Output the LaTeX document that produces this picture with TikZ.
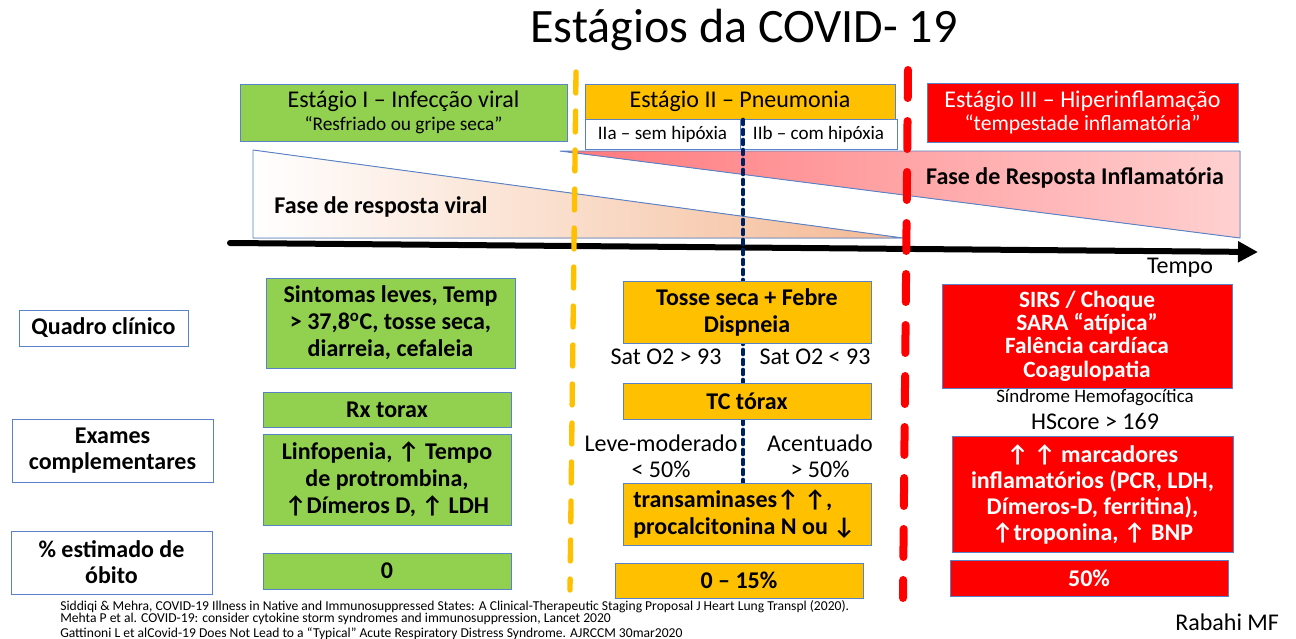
\documentclass[tikz,border=0pt]{standalone}
\usepackage{fontspec}
\setmainfont{Carlito}
\usepackage{tkz-euclide}
\usetikzlibrary{arrows.meta,calc}
\definecolor{GreenClr}{RGB}{146,208,80}
\definecolor{OrangeClr}{RGB}{255,192,0}
\definecolor{RedClr}{RGB}{255,0,0}
\definecolor{BorderClr}{RGB}{90,130,200}
\definecolor{NavyClr}{RGB}{0,32,96}
\definecolor{ViralClr}{RGB}{244,185,148}
\definecolor{InflamClr}{RGB}{255,120,124}
\definecolor{InflamLightClr}{RGB}{255,208,208}
\newcommand\titlefont{\fontsize{36}{42}\selectfont}
\newcommand\stagefont{\fontsize{18}{17.25}\selectfont}
\newcommand\boxfont{\fontsize{18}{20.25}\selectfont\bfseries}
\newcommand\plainfont{\fontsize{18}{19.5}\selectfont}
\newcommand\reffont{\fontsize{10.2}{9.4}\selectfont}

\begin{document}
\begin{tikzpicture}[x=0.75pt,y=-0.75pt,
  boxsize/.style 2 args={minimum width=#1*0.75pt,minimum height=#2*0.75pt},
  cell/.style={draw=BorderClr,line width=0.7pt,inner sep=0pt,align=center},
  greencell/.style={cell,fill=GreenClr,font=\boxfont},
  orangecell/.style={cell,fill=OrangeClr,font=\boxfont},
  redcell/.style={cell,fill=RedClr,text=white,font=\boxfont},
  labelcell/.style={cell,fill=white,font=\boxfont},
  plaintext/.style={inner sep=0pt,align=center,font=\plainfont}]
\fill[white] (0,0) rectangle (1296,639);
\useasboundingbox (0,0) rectangle (1296,639);

\node[font=\titlefont,anchor=base] (title) at (744,42) {Estágios da COVID- 19};

% Points of the two phase wedges and of the lines.
\tkzDefPoints{253/150/V1,253/238/V2,903/238/V3}
\tkzDefPoints{560/151/F1,1240/151/F2,1240/238/F3}
\tkzDefPoints{230/243/T0,1258/252/T1}
\tkzDefPoints{576/72/Y0,570/590/Y1,908/70/R0,903/598/R1,743/120/N0,743/483/N1}

\tkzFillPolygon[left color=white,right color=ViralClr](V1,V2,V3)
\tkzFillPolygon[left color=InflamClr,right color=InflamLightClr](F1,F2,F3)
\tkzDrawPolygon[color=BorderClr,line width=0.7pt](V1,V2,V3)
\tkzDrawPolygon[color=BorderClr,line width=0.7pt](F1,F2,F3)

\node[font=\boxfont] (viral) at (381,207) {Fase de resposta viral};
\node[font=\boxfont] (inflam) at (1075,178) {Fase de Resposta Inflamatória};

% Time axis.
\tkzDrawSegment[color=black,line width=4.5pt,-{Triangle[length=15pt,width=15pt]}](T0,T1)
\node[plaintext] (tempo) at (1180,268) {Tempo};

% Stage headers.
\node[cell,fill=GreenClr,boxsize={327}{57},font=\stagefont] (stageI) at (403.5,112.5)
  {Estágio I – Infecção viral\\{\fontsize{14.5}{17}\selectfont “Resfriado ou gripe seca”}};
\node[cell,fill=OrangeClr,boxsize={310}{35},font=\stagefont] (stageII) at (740,101.5) {Estágio II – Pneumonia};
\node[cell,fill=white,boxsize={155}{30},font=\fontsize{14.3}{16}\selectfont] (IIa) at (662.5,134) {IIa – sem hipóxia};
\node[cell,fill=white,boxsize={157}{30},font=\fontsize{14.3}{16}\selectfont] (IIb) at (818.5,134) {IIb – com hipóxia};
\node[cell,fill=RedClr,text=white,boxsize={311}{59},font=\stagefont] (stageIII) at (1082.5,112.5)
  {Estágio III – Hiperinflamação\\{\fontsize{16.3}{18}\selectfont “tempestade inflamatória”}};

% Stage borders.
\tkzDrawSegment[color=OrangeClr,line width=4pt,dash pattern=on 15.75pt off 13.5pt](Y0,Y1)
\tkzDrawSegment[color=RedClr,line width=6pt,dash pattern=on 21pt off 17.25pt](R0,R1)
\tkzDrawSegment[color=NavyClr,line width=3.5pt,dash pattern=on 3pt off 4.5pt](N0,N1)

% Row labels.
\node[labelcell,boxsize={169}{36}] (quadro) at (103.5,328) {Quadro clínico};
\node[labelcell,boxsize={201}{63},font=\fontsize{18}{19.5}\selectfont\bfseries] (exames) at (112.5,450.5) {Exames\\complementares};
\node[labelcell,boxsize={201}{63},font=\fontsize{18}{19.5}\selectfont\bfseries] (obito) at (111.5,562.5) {\% estimado de\\óbito};

% Stage I column.
\node[greencell,boxsize={249}{90}] (sintomas) at (390.5,323)
  {Sintomas leves, Temp\\> 37,8\textsuperscript{o}C, tosse seca,\\diarreia, cefaleia};
\node[greencell,boxsize={248}{35}] (rx) at (387,409.5) {Rx torax};
\node[greencell,boxsize={248}{91}] (linfo) at (387,479.5)
  {Linfopenia, ↑ Tempo\\de protrombina,\\↑Dímeros D, ↑ LDH};
\node[greencell,boxsize={248}{36}] (zero) at (387,571) {0};

% Stage II column.
\node[orangecell,boxsize={248}{62}] (tosse) at (747,312) {Tosse seca + Febre\\Dispneia};
\node[plaintext] (satA) at (666,357) {Sat O2 > 93};
\node[plaintext] (satB) at (815,357) {Sat O2 < 93};
\node[orangecell,boxsize={248}{36}] (tc) at (747,401) {TC tórax};
\node[plaintext] (leve) at (661,456) {Leve-moderado\\< 50\%};
\node[plaintext] (acent) at (820,456) {Acentuado\\> 50\%};
\node[orangecell,boxsize={248}{62}] (trans) at (747,514) {};
\node[font=\boxfont,align=left,anchor=west,inner sep=0pt] (transtext) at (633,514)
  {transaminases↑ ↑,\\procalcitonina N ou ↓};
\node[orangecell,boxsize={248}{35}] (pct) at (739,580.5) {0 – 15\%};

% Stage III column.
\node[redcell,boxsize={290}{104},font=\fontsize{17.5}{17.5}\selectfont\bfseries] (sirs) at (1087,336)
  {SIRS / Choque\\SARA “atípica”\\Falência cardíaca\\Coagulopatia};
\node[inner sep=0pt,font=\fontsize{14.2}{16}\selectfont] (sindrome) at (1095,398) {Síndrome Hemofagocítica};
\node[plaintext] (hscore) at (1095,421) {HScore > 169};
\node[redcell,boxsize={281}{116},font=\fontsize{18}{19.5}\selectfont\bfseries] (marc) at (1092.5,494)
  {↑ ↑ marcadores\\inflamatórios (PCR, LDH,\\Dímeros-D, ferritina),\\↑troponina, ↑ BNP};
\node[redcell,boxsize={278}{36}] (fifty) at (1089,578) {50\%};

% References.
\node[font=\reffont,anchor=west,inner sep=0pt] (refA) at (60,607)
  {Siddiqi \& Mehra, COVID-19 Illness in Native and Immunosuppressed States: A Clinical-Therapeutic Staging Proposal J Heart Lung Transpl (2020).};
\node[font=\reffont,anchor=west,inner sep=0pt] (refB) at (60,619)
  {Mehta P et al. COVID-19: consider cytokine storm syndromes and immunosuppression, Lancet 2020};
\node[font=\reffont,anchor=west,inner sep=0pt] (refC) at (60,634)
  {Gattinoni L et alCovid-19 Does Not Lead to a “Typical” Acute Respiratory Distress Syndrome. AJRCCM 30mar2020};
\node[font=\fontsize{18}{20}\selectfont,anchor=west,inner sep=0pt] (author) at (1175,622) {Rabahi MF};
\end{tikzpicture}
\end{document}
